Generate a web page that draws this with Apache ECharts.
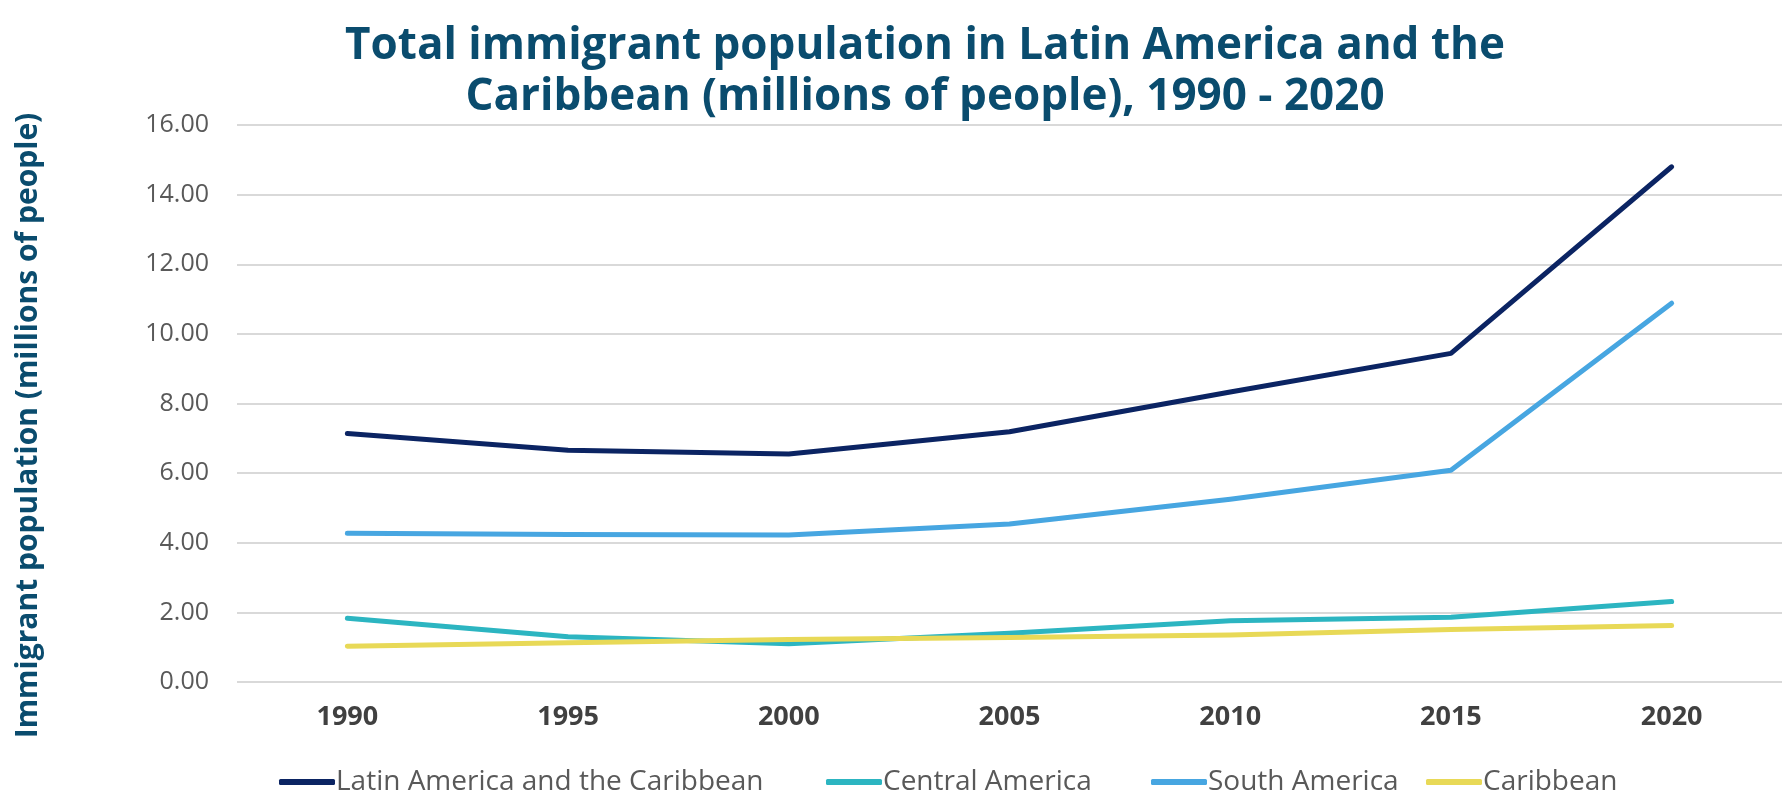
<!DOCTYPE html>
<html>
<head>
<meta charset="utf-8">
<script src="https://cdn.jsdelivr.net/npm/echarts@6/dist/echarts.min.js"></script>
<style>
  html, body { margin: 0; padding: 0; background: #ffffff; }
  #chart { width: 1782px; height: 795px; }
</style>
</head>
<body>
<div id="chart"></div>
<script>
// Years on the horizontal axis
const years = ['1990', '1995', '2000', '2005', '2010', '2015', '2020'];

// Immigrant population, millions of people
const latinAmericaCaribbean = [7.14, 6.66, 6.55, 7.19, 8.33, 9.44, 14.80];
const centralAmerica = [1.83, 1.30, 1.10, 1.40, 1.76, 1.86, 2.31];
const southAmerica = [4.27, 4.24, 4.22, 4.54, 5.25, 6.08, 10.88];
const caribbean = [1.03, 1.13, 1.22, 1.28, 1.35, 1.51, 1.62];

const seriesNames = ['Latin America and the Caribbean', 'Central America', 'South America', 'Caribbean'];
const seriesColors = ['#0b2463', '#2cb5c1', '#47a6e1', '#e8d957'];
const seriesData = [latinAmericaCaribbean, centralAmerica, southAmerica, caribbean];

// Left edge of each legend entry along the bottom row
const legendLefts = [274, 821, 1146, 1421];

const chart = echarts.init(document.getElementById('chart'), null, { renderer: 'canvas' });

const baseFont = '"Open Sans", "Noto Sans", sans-serif';

chart.setOption({
  animation: false,
  title: {
    text: 'Total immigrant population in Latin America and the\nCaribbean (millions of people), 1990 - 2020',
    // centred over the plot area rather than the page
    left: 920,
    textAlign: 'center',
    top: 16,
    textStyle: {
      fontFamily: baseFont,
      fontWeight: 'bold',
      fontSize: 44,
      lineHeight: 51,
      color: '#0a4c6e'
    }
  },
  legend: seriesNames.map((name, i) => ({
    data: [name],
    bottom: -6,
    left: legendLefts[i],
    itemWidth: 56,
    itemHeight: 6,
    icon: 'roundRect',
    textStyle: {
      fontFamily: baseFont,
      fontSize: 28,
      color: '#595959',
      padding: [0, 0, 0, -4]
    }
  })),
  grid: {
    left: 237,
    right: 0,
    top: 125,
    bottom: 113
  },
  xAxis: {
    type: 'category',
    data: years,
    boundaryGap: true,
    axisLine: { show: false },
    axisTick: { show: false },
    axisLabel: {
      margin: 22,
      fontFamily: baseFont,
      fontWeight: 'bold',
      fontSize: 27,
      color: '#404040'
    }
  },
  yAxis: {
    type: 'value',
    min: 0,
    max: 16,
    interval: 2,
    name: 'Immigrant population (millions of people)',
    nameLocation: 'middle',
    nameGap: 194,
    nameTextStyle: {
      fontFamily: baseFont,
      fontWeight: 'bold',
      fontSize: 30,
      color: '#0a4c6e',
      padding: [0, 44, 0, 0]
    },
    axisLine: { show: false },
    axisTick: { show: false },
    axisLabel: {
      margin: 28,
      fontFamily: baseFont,
      fontSize: 25,
      color: '#595959',
      formatter: v => v.toFixed(2)
    },
    splitLine: { lineStyle: { color: '#d9d9d9', width: 2 } }
  },
  series: seriesData.map((d, i) => ({
    name: seriesNames[i],
    type: 'line',
    data: d,
    symbol: 'none',
    color: seriesColors[i],
    lineStyle: { width: 5, cap: 'round', join: 'round' }
  }))
});
</script>
</body>
</html>
